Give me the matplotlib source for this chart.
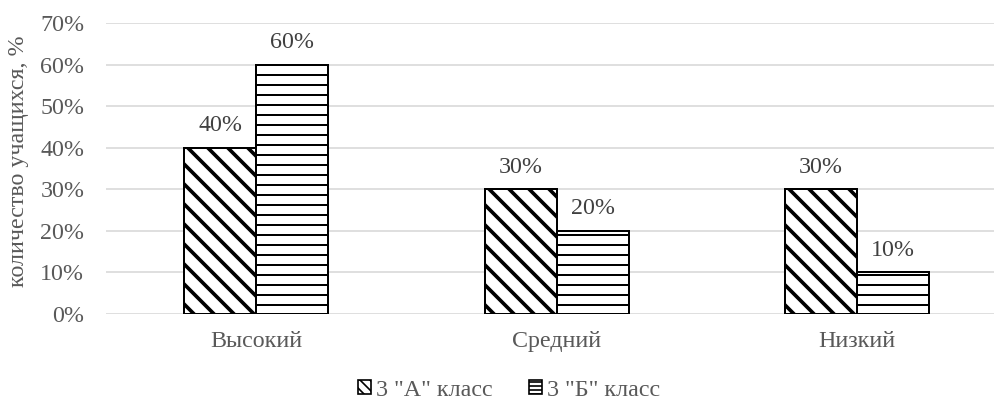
import matplotlib
matplotlib.use("Agg")
import matplotlib.pyplot as plt
from matplotlib.patches import Patch

categories = ["Высокий", "Средний", "Низкий"]
series_names = ['3 "А" класс', '3 "Б" класс']
values_a = [40, 30, 30]
values_b = [60, 20, 10]
yticks = [0, 10, 20, 30, 40, 50, 60, 70]
ylabel = "количество учащихся, %"

DPI = 120
FS = 14.4
plt.rcParams['font.family'] = ['Liberation Serif', 'DejaVu Serif']
plt.rcParams['font.size'] = FS
gray = '#595959'

fig = plt.figure(figsize=(995 / DPI, 404 / DPI), dpi=DPI)
ax = fig.add_axes([106 / 995, 1 - 314 / 404, (995 - 106) / 995, (314 - 23) / 404])

w = 0.24
xs = list(range(len(categories)))

def set_hl(patch, lw):
    if hasattr(patch, 'set_hatch_linewidth'):
        patch.set_hatch_linewidth(lw)

with plt.rc_context({'hatch.linewidth': 2.2}):
    bars_a = ax.bar([x - w / 2 for x in xs], values_a, width=w, color='white',
                    edgecolor='black', linewidth=1.2, hatch='\\\\', zorder=3)
for b in bars_a:
    set_hl(b, 2.2)
with plt.rc_context({'hatch.linewidth': 1.2}):
    bars_b = ax.bar([x + w / 2 for x in xs], values_b, width=w, color='white',
                    edgecolor='black', linewidth=1.2, hatch='--', zorder=3)
for b in bars_b:
    set_hl(b, 1.2)

for bars, vals in ((bars_a, values_a), (bars_b, values_b)):
    for b, v in zip(bars, vals):
        ax.annotate(f"{v}%", (b.get_x() + b.get_width() / 2, v),
                    xytext=(0, 7), textcoords='offset points',
                    ha='center', va='bottom', color='#404040', fontsize=FS)

ax.set_xlim(-0.5, -0.5 + (995 - 106) / 300.5)
ax.set_ylim(0, 70)
ax.set_yticks(yticks)
ax.set_yticklabels([f"{t}%" for t in yticks], color=gray)
ax.set_xticks(xs)
ax.set_xticklabels(categories, color=gray)
ax.tick_params(axis='y', length=0, pad=13)
ax.tick_params(axis='x', length=0, pad=10)
ax.grid(axis='y', color='#d9d9d9', linewidth=1.0, zorder=0)
for s in ax.spines.values():
    s.set_visible(False)
ax.set_ylabel(ylabel, color=gray, fontsize=FS)
ax.yaxis.set_label_coords(-77 / 889, 0.525)

h_a = Patch(facecolor='white', edgecolor='black', hatch='\\\\\\\\', linewidth=1.0)
h_b = Patch(facecolor='white', edgecolor='black', hatch='-----', linewidth=1.0)
fig.legend([h_a, h_b], series_names, loc='center', bbox_to_anchor=(509 / 995, 1 - 390 / 404),
           ncol=2, frameon=False, handlelength=0.55, handleheight=0.55, handletextpad=0.2,
           columnspacing=1.5, labelcolor=gray, fontsize=FS)

fig.savefig("out.png", dpi=DPI)
